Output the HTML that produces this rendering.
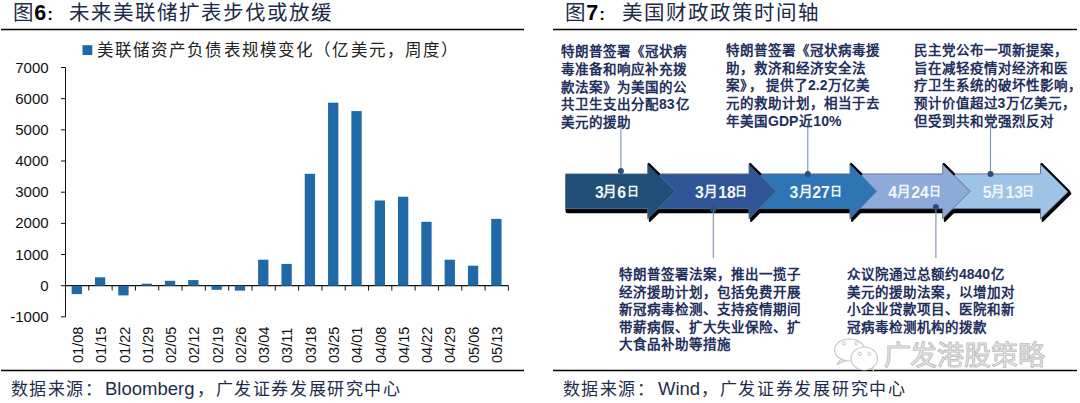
<!DOCTYPE html>
<html lang="zh-CN"><head><meta charset="utf-8">
<style>
html,body{margin:0;padding:0;background:#fff;}
body{width:1080px;height:403px;position:relative;overflow:hidden;font-family:"Liberation Sans",sans-serif;}
.a{position:absolute;white-space:nowrap;}
svg{position:absolute;left:0;top:0;}
.title{font-family:"Liberation Sans",sans-serif;font-weight:500;font-size:20.5px;color:#1c2a48;top:-2px;letter-spacing:2.0px;line-height:30px;}
.title6{font-family:"Liberation Sans",sans-serif;color:#000;font-weight:bold;font-size:21.5px;top:0px;line-height:26px;}
.leg{left:96.5px;top:38.8px;font-family:"Liberation Sans",sans-serif;font-size:16.5px;color:#222;letter-spacing:1.15px;line-height:22px;}
.yl{position:absolute;left:0;width:48.6px;text-align:right;font-size:15px;color:#111;line-height:18px;}
.xl{position:absolute;top:362.5px;font-size:14.5px;color:#111;line-height:12px;transform-origin:0 0;transform:rotate(-90deg);}
.foot{top:380px;font-size:17px;color:#1f2d4d;line-height:20px;}
.fc{letter-spacing:1.4px;}
.n{letter-spacing:0;font-size:14px;margin-right:1px;}
.blk{position:absolute;font-family:"Liberation Sans",sans-serif;font-weight:bold;font-size:13.5px;letter-spacing:1.0px;color:#1f2f5e;white-space:nowrap;}
.dg,.dm,.dr{position:absolute;color:#f4f6fa;font-weight:bold;white-space:nowrap;}
.dg{top:183.5px;font-size:15.8px;line-height:18px;}
.dm{top:183px;font-size:13.5px;line-height:18px;}
.dr{top:184.2px;font-size:12px;line-height:16px;}
.dl i{font-style:normal;font-size:11px;font-weight:bold;}
.wm{left:883.5px;top:340px;font-size:27px;font-weight:300;color:#e6e6e6;-webkit-text-stroke:0.6px #b8b8b8;letter-spacing:-0.2px;line-height:32px;}
.nocjk .j,.nocjk .cj{-webkit-text-stroke:var(--sk) currentColor;}
.nocjk .j .n{-webkit-text-stroke:0;}
.nocjk .blk{--sk:2px;}
.nocjk .title{--sk:1.9px;}
.nocjk .leg{--sk:1.3px;}
.nocjk .foot{--sk:1.2px;}
.nocjk .wm{-webkit-text-stroke:2px #c4c4c4;}
</style></head><body>
<svg width="1080" height="403" viewBox="0 0 1080 403">
<line x1="1" y1="29.5" x2="524" y2="29.5" stroke="#000" stroke-width="1.5"/>
<line x1="553" y1="29.5" x2="1077" y2="29.5" stroke="#000" stroke-width="1.5"/>
<line x1="1" y1="370.6" x2="524" y2="370.6" stroke="#000" stroke-width="1.5"/>
<line x1="553" y1="370.6" x2="1077" y2="370.6" stroke="#000" stroke-width="1.5"/>
<line x1="65.5" y1="67.50999999999999" x2="65.5" y2="316.87" stroke="#111" stroke-width="1"/>
<line x1="61.0" y1="316.87" x2="65.5" y2="316.87" stroke="#111" stroke-width="1"/>
<line x1="61.0" y1="285.70" x2="65.5" y2="285.70" stroke="#111" stroke-width="1"/>
<line x1="61.0" y1="254.53" x2="65.5" y2="254.53" stroke="#111" stroke-width="1"/>
<line x1="61.0" y1="223.36" x2="65.5" y2="223.36" stroke="#111" stroke-width="1"/>
<line x1="61.0" y1="192.19" x2="65.5" y2="192.19" stroke="#111" stroke-width="1"/>
<line x1="61.0" y1="161.02" x2="65.5" y2="161.02" stroke="#111" stroke-width="1"/>
<line x1="61.0" y1="129.85" x2="65.5" y2="129.85" stroke="#111" stroke-width="1"/>
<line x1="61.0" y1="98.68" x2="65.5" y2="98.68" stroke="#111" stroke-width="1"/>
<line x1="61.0" y1="67.51" x2="65.5" y2="67.51" stroke="#111" stroke-width="1"/>
<line x1="65.5" y1="285.7" x2="508.39" y2="285.7" stroke="#111" stroke-width="1.2"/>
<line x1="88.81" y1="285.7" x2="88.81" y2="290.5" stroke="#111" stroke-width="1"/>
<line x1="112.12" y1="285.7" x2="112.12" y2="290.5" stroke="#111" stroke-width="1"/>
<line x1="135.43" y1="285.7" x2="135.43" y2="290.5" stroke="#111" stroke-width="1"/>
<line x1="158.74" y1="285.7" x2="158.74" y2="290.5" stroke="#111" stroke-width="1"/>
<line x1="182.05" y1="285.7" x2="182.05" y2="290.5" stroke="#111" stroke-width="1"/>
<line x1="205.36" y1="285.7" x2="205.36" y2="290.5" stroke="#111" stroke-width="1"/>
<line x1="228.67" y1="285.7" x2="228.67" y2="290.5" stroke="#111" stroke-width="1"/>
<line x1="251.98" y1="285.7" x2="251.98" y2="290.5" stroke="#111" stroke-width="1"/>
<line x1="275.29" y1="285.7" x2="275.29" y2="290.5" stroke="#111" stroke-width="1"/>
<line x1="298.60" y1="285.7" x2="298.60" y2="290.5" stroke="#111" stroke-width="1"/>
<line x1="321.91" y1="285.7" x2="321.91" y2="290.5" stroke="#111" stroke-width="1"/>
<line x1="345.22" y1="285.7" x2="345.22" y2="290.5" stroke="#111" stroke-width="1"/>
<line x1="368.53" y1="285.7" x2="368.53" y2="290.5" stroke="#111" stroke-width="1"/>
<line x1="391.84" y1="285.7" x2="391.84" y2="290.5" stroke="#111" stroke-width="1"/>
<line x1="415.15" y1="285.7" x2="415.15" y2="290.5" stroke="#111" stroke-width="1"/>
<line x1="438.46" y1="285.7" x2="438.46" y2="290.5" stroke="#111" stroke-width="1"/>
<line x1="461.77" y1="285.7" x2="461.77" y2="290.5" stroke="#111" stroke-width="1"/>
<line x1="485.08" y1="285.7" x2="485.08" y2="290.5" stroke="#111" stroke-width="1"/>
<line x1="508.39" y1="285.7" x2="508.39" y2="290.5" stroke="#111" stroke-width="1"/>
<g fill="#1f69a6"><rect x="71.66" y="285.70" width="10.3" height="8.40"/><rect x="94.97" y="277.30" width="10.3" height="8.40"/><rect x="118.28" y="285.70" width="10.3" height="9.70"/><rect x="141.58" y="283.70" width="10.3" height="2.00"/><rect x="164.89" y="280.80" width="10.3" height="4.90"/><rect x="188.20" y="280.10" width="10.3" height="5.60"/><rect x="211.51" y="285.70" width="10.3" height="4.10"/><rect x="234.82" y="285.70" width="10.3" height="4.90"/><rect x="258.13" y="259.70" width="10.3" height="26.00"/><rect x="281.44" y="263.90" width="10.3" height="21.80"/><rect x="304.75" y="173.80" width="10.3" height="111.90"/><rect x="328.06" y="102.70" width="10.3" height="183.00"/><rect x="351.38" y="111.10" width="10.3" height="174.60"/><rect x="374.69" y="200.50" width="10.3" height="85.20"/><rect x="398.00" y="196.70" width="10.3" height="89.00"/><rect x="421.31" y="221.80" width="10.3" height="63.90"/><rect x="444.61" y="259.70" width="10.3" height="26.00"/><rect x="467.92" y="265.70" width="10.3" height="20.00"/><rect x="491.23" y="218.90" width="10.3" height="66.80"/></g>
<rect x="82.5" y="45.2" width="9.8" height="9.8" fill="#1f69a6"/>
<rect x="566.40" y="177.50" width="84.10" height="34.80" rx="1" fill="#000" stroke="#000" stroke-width="1.8" stroke-linejoin="round"/>
<path d="M649.70,166.00 L677.60,193.50 L649.70,221.00 Z" fill="#000" stroke="#000" stroke-width="1.8" stroke-linejoin="round"/>
<rect x="648.50" y="177.50" width="103.30" height="34.80" rx="1" fill="#000" stroke="#000" stroke-width="1.8" stroke-linejoin="round"/>
<path d="M751.00,166.00 L778.20,193.50 L751.00,221.00 Z" fill="#000" stroke="#000" stroke-width="1.8" stroke-linejoin="round"/>
<rect x="749.80" y="177.50" width="103.00" height="34.80" rx="1" fill="#000" stroke="#000" stroke-width="1.8" stroke-linejoin="round"/>
<path d="M852.00,166.00 L878.50,193.50 L852.00,221.00 Z" fill="#000" stroke="#000" stroke-width="1.8" stroke-linejoin="round"/>
<rect x="850.80" y="177.50" width="94.70" height="34.80" rx="1" fill="#000" stroke="#000" stroke-width="1.8" stroke-linejoin="round"/>
<path d="M944.70,166.00 L972.20,193.50 L944.70,221.00 Z" fill="#000" stroke="#000" stroke-width="1.8" stroke-linejoin="round"/>
<rect x="943.50" y="177.50" width="99.80" height="34.80" rx="1" fill="#000" stroke="#000" stroke-width="1.8" stroke-linejoin="round"/>
<path d="M1042.50,166.00 L1070.50,193.50 L1042.50,221.00 Z" fill="#000" stroke="#000" stroke-width="1.8" stroke-linejoin="round"/>
<path d="M942.70,173.90 L1040.50,173.90 L1040.50,163.80 L1068.50,191.30 L1040.50,218.80 L1040.50,208.70 L942.70,208.70 Z" fill="#9dc3e6" stroke="#5d718a" stroke-width="0.9" stroke-linejoin="round"/>
<line x1="1041.70" y1="164.00" x2="1069.20" y2="191.50" stroke="#000" stroke-width="2.2" stroke-linecap="round"/>
<path d="M850.00,173.90 L942.70,173.90 L942.70,163.80 L970.20,191.30 L942.70,218.80 L942.70,208.70 L850.00,208.70 Z" fill="#8eaadb" stroke="#5d718a" stroke-width="0.9" stroke-linejoin="round"/>
<line x1="943.90" y1="164.00" x2="954.00" y2="174.10" stroke="#000" stroke-width="2.2" stroke-linecap="round"/>
<path d="M749.00,173.90 L850.00,173.90 L850.00,163.80 L876.50,191.30 L850.00,218.80 L850.00,208.70 L749.00,208.70 Z" fill="#2e75b6" stroke="#5d718a" stroke-width="0.9" stroke-linejoin="round"/>
<line x1="851.20" y1="164.00" x2="861.30" y2="174.10" stroke="#000" stroke-width="2.2" stroke-linecap="round"/>
<path d="M647.70,173.90 L749.00,173.90 L749.00,163.80 L776.20,191.30 L749.00,218.80 L749.00,208.70 L647.70,208.70 Z" fill="#2f5597" stroke="#5d718a" stroke-width="0.9" stroke-linejoin="round"/>
<line x1="750.20" y1="164.00" x2="760.30" y2="174.10" stroke="#000" stroke-width="2.2" stroke-linecap="round"/>
<path d="M565.60,173.90 L647.70,173.90 L647.70,163.80 L675.60,191.30 L647.70,218.80 L647.70,208.70 L565.60,208.70 Z" fill="#1f4e79" stroke="#5d718a" stroke-width="0.9" stroke-linejoin="round"/>
<line x1="648.90" y1="164.00" x2="659.00" y2="174.10" stroke="#000" stroke-width="2.2" stroke-linecap="round"/>
<line x1="620.9" y1="171.0" x2="620.9" y2="123" stroke="#7d93ad" stroke-width="1.1"/>
<circle cx="620.9" cy="171.0" r="3" fill="#2a4f78"/>
<line x1="713.3" y1="209.3" x2="713.3" y2="258" stroke="#7d93ad" stroke-width="1.1"/>
<circle cx="713.3" cy="209.3" r="3" fill="#2a4f78"/>
<line x1="807.8" y1="174.0" x2="807.8" y2="123" stroke="#7d93ad" stroke-width="1.1"/>
<circle cx="807.8" cy="174.0" r="3" fill="#2a4f78"/>
<line x1="935.9" y1="206.9" x2="935.9" y2="258" stroke="#7d93ad" stroke-width="1.1"/>
<circle cx="935.9" cy="206.9" r="3" fill="#2a4f78"/>
<line x1="990.5" y1="174.0" x2="990.5" y2="122" stroke="#7d93ad" stroke-width="1.1"/>
<circle cx="990.5" cy="174.0" r="3" fill="#2a4f78"/>
<g fill="#fff" stroke="#c6c6c6" stroke-width="1.1" stroke-linejoin="round"><path d="M840.5,359.8 L836.8,364.6 L846.5,360.2 Z"/><ellipse cx="849.5" cy="350" rx="15" ry="11"/><path d="M870.5,367.5 L873.5,370.5 L872.8,365.8 Z"/><ellipse cx="864.3" cy="358.5" rx="13.2" ry="11.5"/></g>
<g fill="none" stroke="#c6c6c6" stroke-width="1"><circle cx="844" cy="343.5" r="1.6"/><circle cx="856.3" cy="343.5" r="1.6"/><circle cx="859.8" cy="353.8" r="1.6"/><circle cx="869.3" cy="353.8" r="1.6"/></g>
</svg>
<div class="a title cj" style="left:13px">图</div><div class="a title6" style="left:34.2px">6</div><div class="a title6" style="left:47.2px;font-size:17px;top:2.2px">:</div>
<div class="a title j" style="left:68.5px;width:264.000px;text-align:justify;text-align-last:justify;">未来美联储扩表步伐或放缓</div>
<div class="a title cj" style="left:565px">图</div><div class="a title6" style="left:586.2px">7</div><div class="a title6" style="left:599.2px;font-size:17px;top:2.2px">:</div>
<div class="a title j" style="left:621.5px;width:198.000px;text-align:justify;text-align-last:justify;">美国财政政策时间轴</div>
<div class="a leg j" style=";width:363.000px;text-align:justify;text-align-last:justify;">美联储资产负债表规模变化（亿美元，周度）</div>
<div class="yl" style="top:307.87px">-1000</div><div class="yl" style="top:276.70px">0</div><div class="yl" style="top:245.53px">1000</div><div class="yl" style="top:214.36px">2000</div><div class="yl" style="top:183.19px">3000</div><div class="yl" style="top:152.02px">4000</div><div class="yl" style="top:120.85px">5000</div><div class="yl" style="top:89.68px">6000</div><div class="yl" style="top:58.51px">7000</div>
<div class="xl" style="left:71.94px">01/08</div><div class="xl" style="left:95.22px">01/15</div><div class="xl" style="left:118.50px">01/22</div><div class="xl" style="left:141.78px">01/29</div><div class="xl" style="left:165.06px">02/05</div><div class="xl" style="left:188.34px">02/12</div><div class="xl" style="left:211.62px">02/19</div><div class="xl" style="left:234.90px">02/26</div><div class="xl" style="left:258.18px">03/04</div><div class="xl" style="left:281.46px">03/11</div><div class="xl" style="left:304.74px">03/18</div><div class="xl" style="left:328.02px">03/25</div><div class="xl" style="left:351.30px">04/01</div><div class="xl" style="left:374.58px">04/08</div><div class="xl" style="left:397.86px">04/15</div><div class="xl" style="left:421.14px">04/22</div><div class="xl" style="left:444.42px">04/29</div><div class="xl" style="left:467.70px">05/06</div><div class="xl" style="left:490.98px">05/13</div>
<div class="a foot fc j" style="left:11px;width:92.000px;text-align:justify;text-align-last:justify;">数据来源：</div>
<div class="a foot" style="left:105px;font-size:18.5px;top:378.6px">Bloomberg</div>
<div class="a foot fc j" style="left:197px;letter-spacing:1.6px;width:204.609px;text-align:justify;text-align-last:justify;">，广发证券发展研究中心</div>
<div class="a foot fc j" style="left:563px;width:92.000px;text-align:justify;text-align-last:justify;">数据来源：</div>
<div class="a foot" style="left:658px;font-size:18.5px;top:378.6px">Wind</div>
<div class="a foot fc j" style="left:701px;letter-spacing:1.7px;width:205.703px;text-align:justify;text-align-last:justify;">，广发证券发展研究中心</div>
<div class="blk j" style="left:561px;top:43.30px;line-height:17.7px;width:126.000px;text-align:justify;text-align-last:justify;">特朗普签署《冠状病</div>
<div class="blk j" style="left:561px;top:61.00px;line-height:17.7px;width:126.000px;text-align:justify;text-align-last:justify;">毒准备和响应补充拨</div>
<div class="blk j" style="left:561px;top:78.70px;line-height:17.7px;width:126.000px;text-align:justify;text-align-last:justify;">款法案》为美国的公</div>
<div class="blk j" style="left:561px;top:96.40px;line-height:17.7px;width:128.578px;text-align:justify;text-align-last:justify;">共卫生支出分配<span class="n">83</span>亿</div>
<div class="blk j" style="left:561px;top:114.10px;line-height:17.7px;width:70.000px;text-align:justify;text-align-last:justify;">美元的援助</div>
<div class="blk j" style="left:726px;top:42.00px;line-height:17.7px;width:154.000px;text-align:justify;text-align-last:justify;">特朗普签署《冠状病毒援</div>
<div class="blk j" style="left:726px;top:59.70px;line-height:17.7px;width:140.000px;text-align:justify;text-align-last:justify;">助，救济和经济安全法</div>
<div class="blk j" style="left:726px;top:77.40px;line-height:17.7px;width:144.469px;text-align:justify;text-align-last:justify;">案》<span style="margin:0 3px 0 2px">，</span>提供了<span class="n">2.2</span>万亿美</div>
<div class="blk j" style="left:726px;top:95.10px;line-height:17.7px;width:154.000px;text-align:justify;text-align-last:justify;">元的救助计划，相当于去</div>
<div class="blk j" style="left:726px;top:112.80px;line-height:17.7px;width:116.375px;text-align:justify;text-align-last:justify;">年美国<span class="n">GDP</span>近<span class="n">10%</span></div>
<div class="blk j" style="left:913.5px;top:42.00px;line-height:17.7px;width:154.000px;text-align:justify;text-align-last:justify;">民主党公布一项新提案，</div>
<div class="blk j" style="left:913.5px;top:59.70px;line-height:17.7px;width:154.000px;text-align:justify;text-align-last:justify;">旨在减轻疫情对经济和医</div>
<div class="blk j" style="left:913.5px;top:77.40px;line-height:17.7px;width:168.000px;text-align:justify;text-align-last:justify;">疗卫生系统的破坏性影响，</div>
<div class="blk j" style="left:913.5px;top:95.10px;line-height:17.7px;width:162.797px;text-align:justify;text-align-last:justify;">预计价值超过<span class="n">3</span>万亿美元，</div>
<div class="blk j" style="left:913.5px;top:112.80px;line-height:17.7px;width:140.000px;text-align:justify;text-align-last:justify;">但受到共和党强烈反对</div>
<div class="blk j" style="left:618.5px;top:266.00px;line-height:17.6px;width:182.000px;text-align:justify;text-align-last:justify;">特朗普签署法案，推出一揽子</div>
<div class="blk j" style="left:618.5px;top:283.60px;line-height:17.6px;width:182.000px;text-align:justify;text-align-last:justify;">经济援助计划，包括免费开展</div>
<div class="blk j" style="left:618.5px;top:301.20px;line-height:17.6px;width:182.000px;text-align:justify;text-align-last:justify;">新冠病毒检测、支持疫情期间</div>
<div class="blk j" style="left:618.5px;top:318.80px;line-height:17.6px;width:182.000px;text-align:justify;text-align-last:justify;">带薪病假、扩大失业保险、扩</div>
<div class="blk j" style="left:618.5px;top:336.40px;line-height:17.6px;width:112.000px;text-align:justify;text-align-last:justify;">大食品补助等措施</div>
<div class="blk j" style="left:847px;top:266.00px;line-height:17.6px;width:158.156px;text-align:justify;text-align-last:justify;">众议院通过总额约<span class="n">4840</span>亿</div>
<div class="blk j" style="left:847px;top:283.60px;line-height:17.6px;width:168.000px;text-align:justify;text-align-last:justify;">美元的援助法案，以增加对</div>
<div class="blk j" style="left:847px;top:301.20px;line-height:17.6px;width:168.000px;text-align:justify;text-align-last:justify;">小企业贷款项目、医院和新</div>
<div class="blk j" style="left:847px;top:318.80px;line-height:17.6px;width:140.000px;text-align:justify;text-align-last:justify;">冠病毒检测机构的拨款</div>
<div class="a wm j" style=";width:160.812px;text-align:justify;text-align-last:justify;">广发港股策略</div>
<div class="dg" style="left:594.90px">3</div><div class="dm" style="left:603.20px">月</div><div class="dg" style="left:617.20px">6</div><div class="dr" style="left:627.20px">日</div><div class="dg" style="left:694.90px">3</div><div class="dm" style="left:703.80px">月</div><div class="dg" style="left:718.20px">18</div><div class="dr" style="left:734.80px">日</div><div class="dg" style="left:789.60px">3</div><div class="dm" style="left:798.50px">月</div><div class="dg" style="left:812.20px">27</div><div class="dr" style="left:829.50px">日</div><div class="dg" style="left:888.30px">4</div><div class="dm" style="left:896.60px">月</div><div class="dg" style="left:911.30px">24</div><div class="dr" style="left:929.00px">日</div><div class="dg" style="left:982.80px">5</div><div class="dm" style="left:991.40px">月</div><div class="dg" style="left:1005.50px">13</div><div class="dr" style="left:1021.80px">日</div>
<div class="a wm">广发港股策略</div>
<script>
(function(){try{var e=document.createElement('span');e.style.cssText='position:absolute;left:-9999px;top:0;font:100px "Liberation Sans";white-space:nowrap';e.textContent='龘龘';document.body.appendChild(e);var w=e.getBoundingClientRect().width;document.body.removeChild(e);if(w<180){document.documentElement.className+=' nocjk';}}catch(x){}})();
</script>
</body></html>
